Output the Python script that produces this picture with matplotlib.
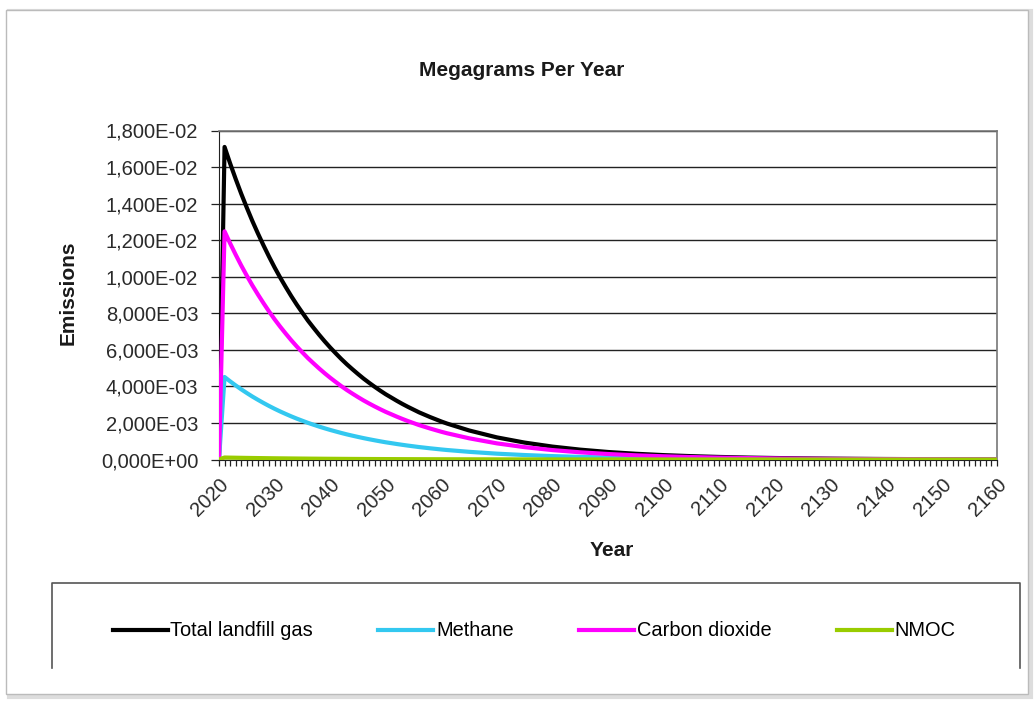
import matplotlib
matplotlib.use("Agg")
import matplotlib.pyplot as plt
from matplotlib.ticker import FuncFormatter, MultipleLocator
from matplotlib.patches import Rectangle
from matplotlib.lines import Line2D

plt.rcParams['font.family'] = ['Liberation Sans', 'DejaVu Sans']

years = ([2020] + list(range(2021, 2062)) +
         list(range(2065, 2161, 5)))

total = [0, 0.01710, 0.01620, 0.01535, 0.01454, 0.01378, 0.01305, 0.01237, 0.01172, 0.01110,
         0.01051, 0.00996, 0.00944, 0.00894, 0.00847, 0.00803, 0.00760, 0.00721, 0.00683, 0.00647,
         0.00613, 0.00581, 0.00550, 0.00521, 0.00494, 0.00468, 0.00443, 0.00420, 0.00398, 0.00377,
         0.00357, 0.00339, 0.00321, 0.00304, 0.00288, 0.00273, 0.00258, 0.00245, 0.00232, 0.00220,
         0.00208, 0.00197,
         0.00159, 0.00121, 0.000925, 0.000706, 0.000539, 0.000411, 0.000314, 0.000240, 0.000183,
         0.000140, 0.000107, 0.0000814, 0.0000621, 0.0000474, 0.0000362, 0.0000276, 0.0000211,
         0.0000161, 0.0000123, 0.0000094]

methane = [0, 0.004514, 0.004277, 0.004052, 0.003839, 0.003638, 0.003445, 0.003266, 0.003094, 0.002930,
           0.002775, 0.002629, 0.002492, 0.002360, 0.002236, 0.002120, 0.002006, 0.001903, 0.001803, 0.001708,
           0.001618, 0.001534, 0.001452, 0.001375, 0.001304, 0.001236, 0.001170, 0.001109, 0.001051, 0.000995,
           0.000942, 0.000895, 0.000847, 0.000803, 0.000760, 0.000721, 0.000681, 0.000647, 0.000612, 0.000581,
           0.000549, 0.000520,
           0.000420, 0.000319, 0.000244, 0.000186, 0.000142, 0.000109, 0.0000829, 0.0000634, 0.0000483,
           0.0000370, 0.0000282, 0.0000215, 0.0000164, 0.0000125, 0.0000096, 0.0000073, 0.0000056,
           0.0000043, 0.0000032, 0.0000025]

co2 = [0, 0.012483, 0.011826, 0.011206, 0.010614, 0.010059, 0.009527, 0.009030, 0.008556, 0.008103,
       0.007672, 0.007271, 0.006891, 0.006526, 0.006183, 0.005862, 0.005548, 0.005263, 0.004986, 0.004723,
       0.004475, 0.004241, 0.004015, 0.003803, 0.003606, 0.003416, 0.003234, 0.003066, 0.002905, 0.002752,
       0.002606, 0.002475, 0.002343, 0.002219, 0.002102, 0.001993, 0.001883, 0.001789, 0.001694, 0.001606,
       0.001518, 0.001438,
       0.001161, 0.000883, 0.000675, 0.000515, 0.000393, 0.000300, 0.000229, 0.000175, 0.000134,
       0.000102, 0.0000781, 0.0000594, 0.0000453, 0.0000346, 0.0000264, 0.0000201, 0.0000154,
       0.0000118, 0.0000090, 0.0000069]

nmoc = [0, 0.000108, 0.000102, 0.0000967, 0.0000916, 0.0000868, 0.0000822, 0.0000779, 0.0000738, 0.0000699,
        0.0000662, 0.0000627, 0.0000595, 0.0000563, 0.0000534, 0.0000506, 0.0000479, 0.0000454, 0.0000430, 0.0000408,
        0.0000386, 0.0000366, 0.0000347, 0.0000328, 0.0000311, 0.0000295, 0.0000279, 0.0000265, 0.0000251, 0.0000238,
        0.0000225, 0.0000214, 0.0000202, 0.0000192, 0.0000181, 0.0000172, 0.0000163, 0.0000154, 0.0000146, 0.0000139,
        0.0000131, 0.0000124,
        0.0000100, 0.0000076, 0.0000058, 0.0000044, 0.0000034, 0.0000026, 0.0000020, 0.0000015, 0.0000012,
        0.0000009, 0.0000007, 0.0000005, 0.0000004, 0.0000003, 0.0000002, 0.0000002, 0.0000001,
        0.0000001, 0.0000001, 0.0000001]

series_names = ["Total landfill gas", "Methane", "Carbon dioxide", "NMOC"]
series_colors = ["#000000", "#33C8F0", "#FF00FF", "#99CC00"]
x_ticks = list(range(2020, 2161, 10))
y_ticks = [0, 0.002, 0.004, 0.006, 0.008, 0.010, 0.012, 0.014, 0.016, 0.018]

W, H = 1036, 704
fig = plt.figure(figsize=(W / 100, H / 100), dpi=100)
fig.patch.set_facecolor("white")

# outer chart frame
fig.patches.append(Rectangle((9 / W, 1 - 697 / H), 1022 / W, 686 / H, transform=fig.transFigure,
                             facecolor="none", edgecolor="#dddddd", linewidth=3, zorder=-10))
fig.patches.append(Rectangle((6 / W, 1 - 694 / H), 1022 / W, 684 / H, transform=fig.transFigure,
                             facecolor="white", edgecolor="#bbbbbb", linewidth=1, zorder=-9))

ax = fig.add_axes([219 / W, 1 - 459.5 / H, (997 - 219) / W, (459.5 - 130.5) / H])
ax.set_facecolor("white")
ax.set_zorder(5)

handles = []
for vals, name, col in zip([total, methane, co2, nmoc], series_names, series_colors):
    ln, = ax.plot(years, vals, color=col, linewidth=3.0, label=name, solid_joinstyle="round",
                  zorder=3)
    handles.append(ln)

ax.set_xlim(2020, 2160)
ax.set_ylim(0, 0.018)
ax.set_yticks(y_ticks)
ax.yaxis.set_major_formatter(FuncFormatter(lambda v, p: f"{v:.3E}".replace(".", ",")))
ax.set_xticks(x_ticks)
ax.xaxis.set_minor_locator(MultipleLocator(1))
ax.tick_params(axis="x", which="both", direction="out", length=4, width=0.9, color="#222222")
ax.tick_params(axis="y", which="major", direction="out", length=6, width=0.9, color="#222222", pad=9)
ax.tick_params(axis="both", labelsize=14.5, labelcolor="#2a2a2a")
for lab in ax.get_xticklabels():
    lab.set_rotation(45)
    lab.set_ha("right")
    lab.set_va("top")
    lab.set_rotation_mode("anchor")
ax.tick_params(axis="x", pad=7)

ax.grid(axis="y", color="#222222", linewidth=1.0)
ax.set_axisbelow(True)
for s in ["top", "right"]:
    ax.spines[s].set_color("#777777")
    ax.spines[s].set_linewidth(1.2)
ax.spines["left"].set_color("#222222")
ax.spines["bottom"].set_color("#222222")

fig.text(522 / W, 1 - 70 / H, "Megagrams Per Year", fontsize=15, fontweight="bold",
         ha="center", va="center", color="#1a1a1a")
fig.text(68 / W, 1 - 293 / H, "Emissions", fontsize=15, fontweight="bold",
         ha="center", va="center", rotation=90, color="#1a1a1a")
fig.text(612 / W, 1 - 550 / H, "Year", fontsize=15, fontweight="bold",
         ha="center", va="center", color="#1a1a1a")

# legend box (bottom border not drawn)
lx0, lx1, ly0, ly1 = 52 / W, 1020 / W, 1 - 668 / H, 1 - 583 / H
fig.lines.append(Line2D([lx0, lx0, lx1, lx1], [ly0, ly1, ly1, ly0], transform=fig.transFigure,
                        color="#555555", linewidth=1.2))
fig.legend(handles=handles, labels=series_names, loc="center", ncol=4,
           bbox_to_anchor=(534 / W, 1 - 631 / H), frameon=False, fontsize=14.4,
           handlelength=2.75, handletextpad=0.15, columnspacing=3.25)

fig.savefig("out.png", dpi=100)
